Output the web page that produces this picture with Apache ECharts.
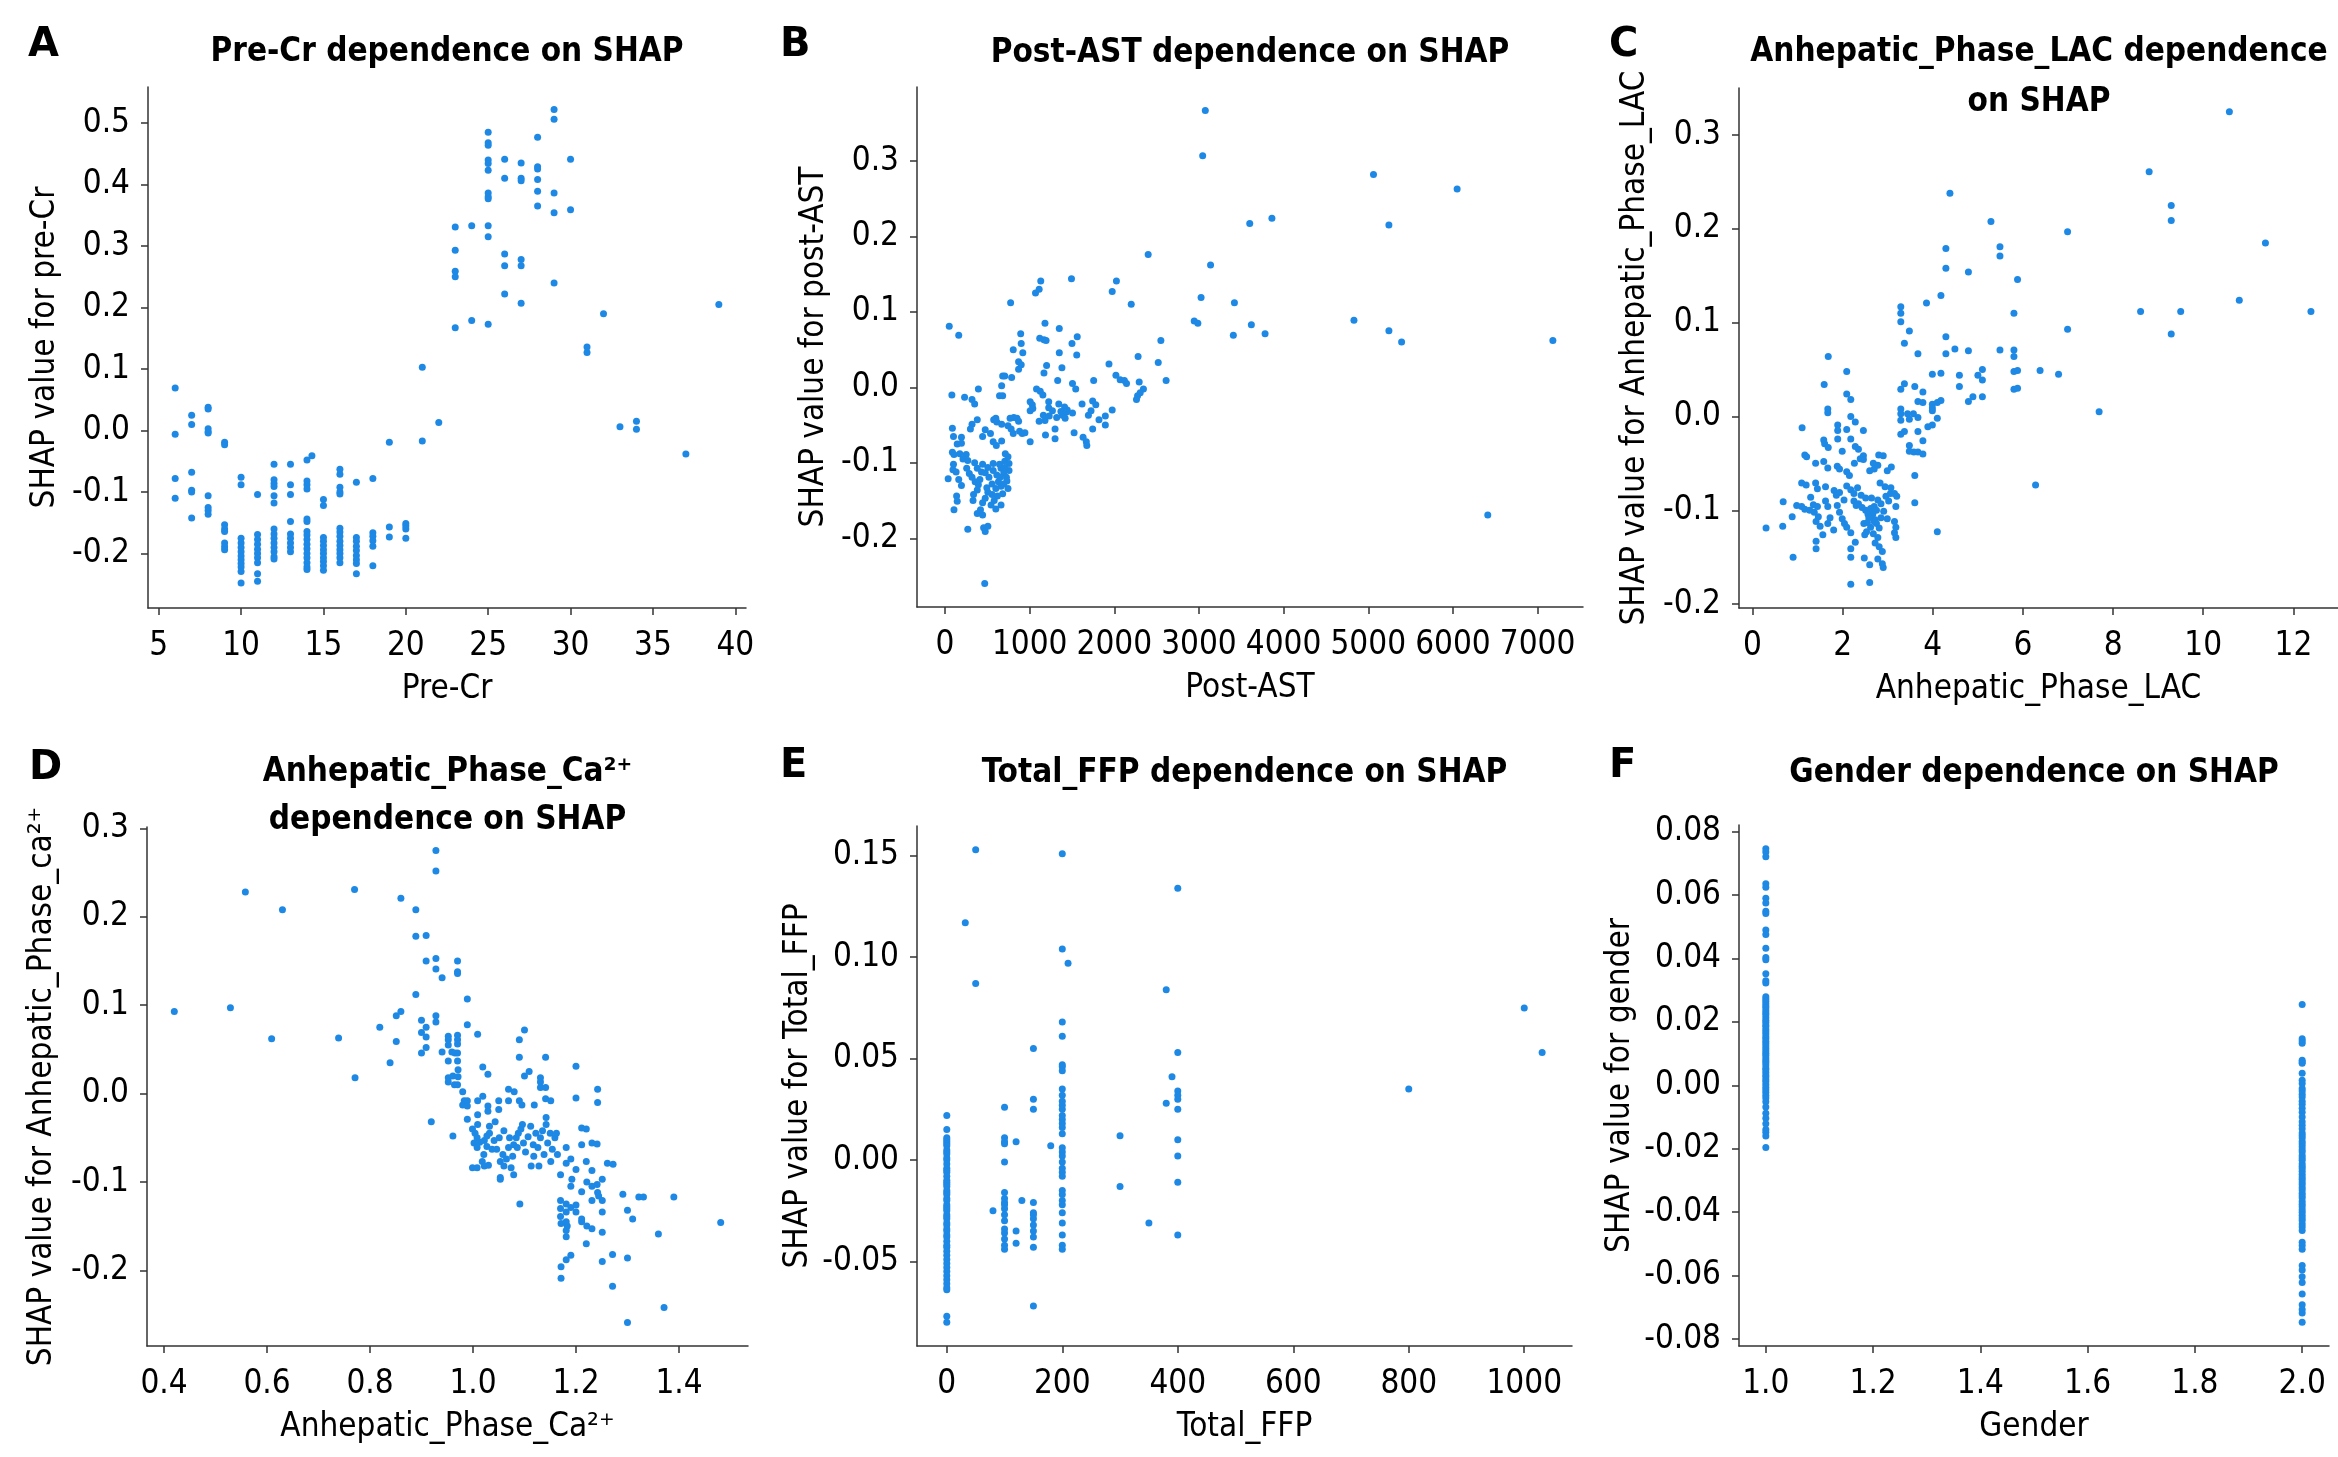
<!DOCTYPE html>
<html>
<head>
<meta charset="utf-8">
<script src="https://cdn.jsdelivr.net/npm/echarts@6.0.0/dist/echarts.min.js"></script>
<style>
html, body { margin: 0; padding: 0; background: #fff; }
#chart { width: 2338px; height: 1457px; }
</style>
</head>
<body>
<div id="chart"></div>
<script>
// ---- data: [feature value, SHAP value] ----
var preCr = [
  [6,0.069],[6,-0.006],[6,-0.078],[6,-0.110],
  [7,0.025],[7,0.010],[7,-0.068],[7,-0.097],[7,-0.100],[7,-0.142],
  [8,0.038],[8,0.035],[8,0.003],[8,-0.002],[8,-0.004],[8,-0.106],[8,-0.125],[8,-0.130],[8,-0.136],
  [9,-0.019],[9,-0.023],[9,-0.153],[9,-0.160],[9,-0.164],[9,-0.183],[9,-0.189],[9,-0.194],
  [10,-0.076],[10,-0.088],[10,-0.175],[10,-0.183],[10,-0.190],[10,-0.197],[10,-0.204],[10,-0.210],[10,-0.216],[10,-0.222],[10,-0.229],[10,-0.248],
  [11,-0.104],[11,-0.169],[11,-0.177],[11,-0.185],[11,-0.193],[11,-0.200],[11,-0.207],[11,-0.215],[11,-0.233],[11,-0.245],
  [12,-0.055],[12,-0.080],[12,-0.086],[12,-0.091],[12,-0.106],[12,-0.118],[12,-0.160],[12,-0.168],[12,-0.175],[12,-0.183],[12,-0.190],[12,-0.197],[12,-0.205],[12,-0.209],
  [13,-0.055],[13,-0.088],[13,-0.104],[13,-0.148],[13,-0.168],[13,-0.175],[13,-0.183],[13,-0.190],[13,-0.197],
  [14,-0.048],[14,-0.082],[14,-0.088],[14,-0.095],[14,-0.144],[14,-0.148],[14,-0.164],[14,-0.170],[14,-0.177],[14,-0.185],[14,-0.192],[14,-0.200],[14,-0.207],[14,-0.215],[14,-0.222],[14,-0.226],[14.3,-0.041],
  [15,-0.112],[15,-0.122],[15,-0.174],[15,-0.180],[15,-0.187],[15,-0.194],[15,-0.200],[15,-0.207],[15,-0.213],[15,-0.220],[15,-0.227],
  [16,-0.063],[16,-0.071],[16,-0.092],[16,-0.100],[16,-0.103],[16,-0.159],[16,-0.165],[16,-0.172],[16,-0.180],[16,-0.187],[16,-0.194],[16,-0.200],[16,-0.207],[16,-0.215],
  [17,-0.084],[17,-0.174],[17,-0.180],[17,-0.188],[17,-0.195],[17,-0.203],[17,-0.210],[17,-0.216],[17,-0.233],
  [18,-0.078],[18,-0.166],[18,-0.172],[18,-0.179],[18,-0.188],[18,-0.220],
  [19,-0.019],[19,-0.157],[19,-0.173],
  [20,-0.151],[20,-0.155],[20,-0.160],[20,-0.175],
  [21,0.103],[21,-0.017],[22,0.013],
  [23,0.331],[23,0.293],[23,0.259],[23,0.250],[23,0.167],
  [24,0.333],[24,0.179],
  [25,0.485],[25,0.468],[25,0.464],[25,0.440],[25,0.434],[25,0.423],[25,0.386],[25,0.380],[25,0.377],[25,0.333],[25,0.315],[25,0.173],
  [26,0.441],[26,0.410],[26,0.287],[26,0.268],[26,0.222],
  [27,0.435],[27,0.410],[27,0.406],[27,0.278],[27,0.268],[27,0.207],
  [28,0.477],[28,0.429],[28,0.425],[28,0.408],[28,0.389],[28,0.365],
  [29,0.522],[29,0.506],[29,0.386],[29,0.354],[29,0.240],
  [30,0.441],[30,0.359],
  [31,0.136],[31,0.127],[32,0.190],[33,0.006],[34,0.015],[34,0.002],[37,-0.038],[39,0.205]
];

var postAst = [
  [3075,0.367],[3044,0.307],[5062,0.282],[6050,0.263],[3600,0.217],[3862,0.224],[5244,0.215],[2400,0.176],
  [3137,0.162],[1494,0.144],[1131,0.141],[2025,0.141],[1975,0.127],[1069,0.125],[1112,0.130],[775,0.112],
  [2200,0.110],[3025,0.119],[3419,0.112],[50,0.081],[162,0.069],[2944,0.088],[2987,0.085],[4831,0.089],
  [3619,0.083],[3406,0.069],[3781,0.071],[5244,0.075],[5394,0.060],[7181,0.062],[6412,-0.169],[469,-0.260],
  [1181,0.085],[1350,0.078],[894,0.071],[1562,0.067],[1119,0.065],[1169,0.063],[1194,0.062],[900,0.058],
  [1500,0.058],[2550,0.062],[806,0.050],[919,0.046],[1350,0.046],[1556,0.043],[2281,0.041],[869,0.034],
  [900,0.030],[869,0.024],[1200,0.029],[1937,0.031],[2519,0.033],[1381,0.026],[1169,0.019],[2019,0.016],
  [681,0.015],[706,0.015],[787,0.013],[2069,0.010],[2119,0.009],[2294,0.007],[1756,0.009],[2612,0.009],
  [1331,0.009],[2144,0.005],[1506,0.005],[394,-0.002],[1081,-0.002],[1544,-0.002],[2344,-0.002],[2306,-0.007],
  [2275,-0.011],[2262,-0.016],[669,0.002],[81,-0.010],[231,-0.013],[319,-0.016],[350,-0.022],[644,-0.011],
  [681,-0.011],[1125,-0.005],[1156,-0.010],[1225,-0.019],[1344,-0.022],[1619,-0.022],[1781,-0.023],[1744,-0.018],
  [1006,-0.019],[1031,-0.023],[1412,-0.026],[1444,-0.030],[1225,-0.027],[1269,-0.031],[1369,-0.032],[1431,-0.033],
  [1975,-0.030],[1694,-0.037],[1725,-0.031],[1006,-0.031],[1037,-0.028],[1506,-0.034],[1162,-0.037],[1231,-0.038],
  [1319,-0.040],[1387,-0.037],[1419,-0.041],[1894,-0.038],[1181,-0.044],[1112,-0.045],[1819,-0.043],[1894,-0.050],
  [1744,-0.055],[1300,-0.055],[1300,-0.068],[1187,-0.063],[912,-0.061],[881,-0.058],[812,-0.040],[850,-0.041],
  [769,-0.041],[869,-0.045],[744,-0.051],[781,-0.055],[575,-0.043],[612,-0.046],[600,-0.041],[669,-0.049],
  [806,-0.061],[944,-0.060],[1006,-0.072],[1525,-0.060],[1631,-0.066],[1669,-0.072],[1675,-0.077],[669,-0.071],
  [381,-0.043],[319,-0.049],[300,-0.055],[87,-0.054],[100,-0.065],[194,-0.066],[144,-0.075],[194,-0.074],
  [444,-0.065],[475,-0.056],[537,-0.061],[569,-0.072],[606,-0.077],[87,-0.086],[106,-0.089],[100,-0.102],
  [175,-0.088],[250,-0.089],[212,-0.095],[269,-0.097],[37,-0.121],[94,-0.109],[131,-0.112],[162,-0.122],
  [194,-0.130],[137,-0.144],[144,-0.151],[106,-0.162],[256,-0.107],[287,-0.114],[319,-0.119],[269,-0.188],
  [350,-0.100],[381,-0.107],[431,-0.112],[356,-0.125],[394,-0.129],[337,-0.142],[331,-0.150],[381,-0.167],
  [444,-0.169],[456,-0.186],[506,-0.184],[475,-0.191],
  [475,-0.113],[519,-0.119],[569,-0.110],[612,-0.116],[662,-0.107],[694,-0.113],[725,-0.119],[631,-0.125],
  [556,-0.128],[494,-0.133],[600,-0.134],[662,-0.131],[706,-0.098],[744,-0.092],[712,-0.088],[756,-0.101],
  [756,-0.110],[731,-0.124],[681,-0.141],[619,-0.144],[556,-0.142],[506,-0.139],[581,-0.150],[544,-0.156],
  [475,-0.147],[444,-0.153],[419,-0.162],[600,-0.161],[662,-0.156],[650,-0.119],[569,-0.101],[506,-0.106],
  [444,-0.102],[412,-0.122],[381,-0.136],[694,-0.128],[744,-0.134],[644,-0.102],[706,-0.106]
];

var lac = [
  [10.58,0.325],[8.80,0.261],[4.38,0.238],[9.29,0.225],[9.29,0.209],[5.29,0.208],[6.99,0.197],[11.38,0.185],
  [4.29,0.179],[5.49,0.181],[5.49,0.171],[4.29,0.158],[4.79,0.154],[5.88,0.146],[4.18,0.129],[3.86,0.121],
  [3.29,0.117],[3.29,0.110],[3.29,0.101],[10.80,0.124],[8.61,0.112],[9.50,0.112],[12.39,0.112],[5.80,0.110],
  [6.99,0.093],[9.29,0.088],[3.48,0.091],[3.37,0.078],[4.29,0.085],[4.49,0.072],[4.29,0.067],[4.79,0.070],
  [3.67,0.067],[5.49,0.071],[5.80,0.071],[5.80,0.064],[1.68,0.064],[2.09,0.048],[3.99,0.045],[4.18,0.046],
  [5.10,0.050],[5.00,0.044],[4.59,0.044],[4.59,0.032],[5.10,0.039],[5.80,0.048],[5.88,0.049],[6.38,0.049],
  [6.79,0.045],[5.80,0.029],[5.88,0.030],[1.59,0.034],[3.37,0.035],[3.29,0.029],[3.60,0.032],[3.78,0.026],
  [4.89,0.021],[4.79,0.016],[5.10,0.021],[2.09,0.024],[2.18,0.018],[7.69,0.005],[3.67,0.016],[3.78,0.015],
  [3.99,0.013],[4.10,0.015],[4.18,0.017],[1.67,0.008],[1.67,0.004],[3.29,0.008],[3.29,0.003],[3.44,0.003],
  [3.57,0.003],[3.99,0.009],[3.99,0.006],[3.67,-0.001],[3.48,-0.003],[3.29,-0.004],[2.18,0.000],[4.10,-0.002],
  [3.89,-0.011],[3.99,-0.009],[1.89,-0.009],[1.89,-0.015],[1.10,-0.012],[2.28,-0.006],[2.46,-0.015],[2.09,-0.014],
  [2.18,-0.024],[3.29,-0.019],[3.37,-0.016],[3.67,-0.016],[3.78,-0.026],[3.48,-0.031],[3.67,-0.038],[3.78,-0.040],
  [3.58,-0.038],[3.48,-0.037],[1.58,-0.025],[1.60,-0.029],[1.68,-0.033],[1.89,-0.024],[3.60,-0.063],[6.28,-0.073],
  [3.60,-0.092],[4.10,-0.123],[2.28,-0.032],[2.35,-0.035],[2.46,-0.042],[2.46,-0.046],[2.39,-0.045],[1.99,-0.037],
  [1.16,-0.041],[1.20,-0.043],[1.40,-0.050],[1.58,-0.048],[1.67,-0.055],[1.88,-0.053],[1.93,-0.056],[2.09,-0.059],
  [2.15,-0.063],[2.26,-0.050],[2.68,-0.050],[2.78,-0.052],[2.80,-0.041],[2.90,-0.042],[2.99,-0.058],[3.08,-0.054],
  [2.60,-0.058],[2.70,-0.056],[1.09,-0.071],[1.19,-0.073],[1.40,-0.071],[1.44,-0.077],[1.62,-0.075],[1.81,-0.079],
  [1.86,-0.084],[1.93,-0.081],[2.03,-0.089],[2.09,-0.074],[2.18,-0.078],[2.25,-0.082],[2.33,-0.076],[2.41,-0.084],
  [0.68,-0.091],[0.30,-0.119],[0.67,-0.117],[0.90,-0.150],[0.88,-0.107],[0.98,-0.095],[1.09,-0.096],[1.16,-0.099],
  [1.29,-0.086],[1.35,-0.094],[1.44,-0.096],[1.27,-0.100],[1.37,-0.102],[1.46,-0.107],[1.41,-0.112],[1.41,-0.133],
  [1.41,-0.141],[1.50,-0.117],[1.56,-0.126],[1.62,-0.090],[1.67,-0.096],[1.72,-0.108],[1.67,-0.114],[1.80,-0.121],
  [1.88,-0.095],[1.93,-0.102],[1.99,-0.109],[2.04,-0.114],[2.09,-0.118],[2.18,-0.124],[2.18,-0.141],[2.18,-0.150],
  [2.18,-0.179],[2.28,-0.134],[2.35,-0.093],[2.43,-0.097],[2.51,-0.100],[2.56,-0.104],[2.62,-0.098],[2.25,-0.090],
  [2.30,-0.095],[2.47,-0.114],[2.53,-0.123],[2.49,-0.126],[2.60,-0.177],[2.48,-0.151],[2.60,-0.158],[2.67,-0.104],
  [2.72,-0.110],[2.75,-0.114],[2.81,-0.119],[2.70,-0.096],[2.78,-0.089],[2.85,-0.093],[2.91,-0.101],[2.64,-0.087],
  [2.72,-0.135],[2.81,-0.139],[2.88,-0.144],[2.78,-0.129],[2.88,-0.157],[2.90,-0.161],[2.78,-0.152],[2.96,-0.085],
  [3.02,-0.090],[3.06,-0.082],[2.99,-0.109],[3.15,-0.112],[3.18,-0.118],[3.18,-0.129],[3.15,-0.124],[3.15,-0.082],
  [3.18,-0.096],[3.20,-0.085],[3.07,-0.076],[2.94,-0.075],[2.83,-0.071],[2.51,-0.087],
  [2.65,-0.105],[2.70,-0.112],[2.58,-0.108],[2.75,-0.100],[2.62,-0.118],[2.55,-0.113],[2.68,-0.125],[2.85,-0.108]
];

var calcium = [
  [0.420,0.093],[0.529,0.097],[0.558,0.228],[0.609,0.062],[0.630,0.208],[0.739,0.063],[0.770,0.231],[0.771,0.018],
  [0.819,0.075],[0.839,0.035],[0.851,0.088],[0.851,0.059],[0.860,0.093],[0.860,0.221],[0.889,0.208],[0.889,0.178],
  [0.889,0.112],[0.909,0.179],[0.909,0.150],[0.900,0.083],[0.900,0.069],[0.900,0.046],[0.909,0.075],[0.909,0.064],
  [0.909,0.052],[0.919,-0.032],[0.928,0.275],[0.928,0.252],[0.928,0.153],[0.928,0.141],[0.928,0.088],[0.928,0.081],
  [0.940,0.131],[0.961,-0.048],[0.970,0.150],[0.970,0.138],[0.970,0.136],[0.989,0.107],[0.989,0.078],[1.009,0.067],
  [0.940,0.047],[0.952,0.065],[0.952,0.061],[0.952,0.055],[0.952,0.037],[0.959,0.047],[0.965,0.046],[0.970,0.066],
  [0.970,0.061],[0.970,0.056],[0.970,0.046],[0.970,0.037],[0.971,0.027],[0.971,0.019],[0.952,0.018],[0.952,0.013],
  [0.961,0.020],[0.964,0.010],[0.970,0.010],[0.980,0.002],[0.983,-0.008],[0.980,-0.013],[0.989,-0.008],[0.989,-0.014],
  [0.989,-0.029],[1.009,-0.008],[1.009,-0.024],[1.009,-0.035],[1.019,-0.003],[1.019,0.030],[1.029,0.022],[1.050,-0.008],
  [1.050,-0.018],[1.029,-0.014],[1.029,-0.020],[1.069,0.005],[1.069,-0.008],[1.080,0.002],[1.090,0.061],[1.090,0.041],
  [1.100,0.072],[1.100,0.020],[1.109,0.025],[1.090,-0.008],[1.095,-0.013],[1.119,-0.013],[1.131,0.018],[1.131,0.013],
  [1.131,0.007],[1.141,0.041],[1.141,0.007],[1.141,-0.006],[1.151,-0.008],[1.200,0.031],[1.200,-0.005],[1.242,0.005],
  [1.242,-0.010],[1.091,-0.125],
  [0.999,-0.040],[1.004,-0.045],[1.008,-0.050],[1.013,-0.055],[1.002,-0.056],[1.008,-0.061],[0.999,-0.084],[1.008,-0.084],
  [1.018,-0.077],[1.021,-0.069],[1.022,-0.053],[1.027,-0.048],[1.032,-0.045],[1.027,-0.060],[1.037,-0.063],[1.022,-0.082],
  [1.030,-0.081],[1.041,-0.053],[1.046,-0.063],[1.051,-0.050],[1.053,-0.077],[1.053,-0.095],[1.053,-0.097],[1.058,-0.069],
  [1.060,-0.082],[1.065,-0.074],[1.069,-0.061],[1.071,-0.050],[1.074,-0.084],[1.077,-0.071],[1.079,-0.058],[1.084,-0.050],
  [1.086,-0.061],[1.088,-0.045],[1.093,-0.040],[1.096,-0.035],[1.098,-0.056],[1.102,-0.066],[1.107,-0.049],[1.112,-0.037],
  [1.117,-0.058],[1.118,-0.071],[1.122,-0.045],[1.126,-0.061],[1.128,-0.082],[1.131,-0.050],[1.135,-0.042],[1.138,-0.069],
  [1.142,-0.027],[1.142,-0.035],[1.145,-0.056],[1.150,-0.045],[1.151,-0.077],[1.154,-0.063],[1.159,-0.050],[1.162,-0.045],
  [1.164,-0.069],[1.113,-0.082],[1.079,-0.092],[1.043,-0.032],[1.032,-0.037],[1.060,-0.042],
  [1.170,-0.092],[1.181,-0.061],[1.181,-0.079],[1.190,-0.074],[1.192,-0.097],[1.190,-0.105],[1.200,-0.086],[1.211,-0.039],
  [1.220,-0.040],[1.211,-0.058],[1.220,-0.077],[1.231,-0.087],[1.231,-0.105],[1.241,-0.103],[1.211,-0.111],[1.221,-0.100],
  [1.231,-0.056],[1.241,-0.057],[1.251,-0.097],[1.242,-0.112],[1.244,-0.116],[1.231,-0.121],[1.251,-0.121],[1.261,-0.079],
  [1.272,-0.080],[1.170,-0.121],[1.181,-0.125],[1.170,-0.130],[1.190,-0.129],[1.181,-0.134],[1.170,-0.139],[1.181,-0.145],
  [1.183,-0.150],[1.171,-0.147],[1.181,-0.155],[1.181,-0.162],[1.200,-0.126],[1.200,-0.134],[1.211,-0.145],[1.221,-0.150],
  [1.251,-0.134],[1.251,-0.157],[1.211,-0.142],[1.190,-0.183],[1.181,-0.188],[1.171,-0.196],[1.171,-0.209],[1.220,-0.170],
  [1.231,-0.153],[1.251,-0.190],[1.271,-0.182],[1.271,-0.218],[1.291,-0.114],[1.300,-0.132],[1.310,-0.142],[1.300,-0.186],
  [1.300,-0.259],[1.322,-0.117],[1.331,-0.117],[1.360,-0.159],[1.371,-0.242],[1.390,-0.117],[1.481,-0.146]
];

var totalFfp = [
  [0,0.022],[0,0.015],[0,0.011],[0,0.010],[0,0.009],[0,0.008],[0,0.007],[0,0.005],[0,0.004],[0,0.003],
  [0,0.001],[0,0.000],[0,-0.002],[0,-0.004],[0,-0.005],[0,-0.006],[0,-0.008],[0,-0.010],[0,-0.011],[0,-0.012],
  [0,-0.013],[0,-0.015],[0,-0.016],[0,-0.017],[0,-0.019],[0,-0.020],[0,-0.022],[0,-0.023],[0,-0.024],[0,-0.025],
  [0,-0.027],[0,-0.028],[0,-0.029],[0,-0.031],[0,-0.032],[0,-0.034],[0,-0.035],[0,-0.037],[0,-0.038],[0,-0.040],
  [0,-0.042],[0,-0.043],[0,-0.045],[0,-0.047],[0,-0.049],[0,-0.051],[0,-0.053],[0,-0.055],[0,-0.057],[0,-0.059],
  [0,-0.061],[0,-0.063],[0,-0.064],[0,-0.077],[0,-0.080],
  [32,0.117],[50,0.153],[50,0.087],[80,-0.025],
  [100,0.026],[100,0.011],[100,0.009],[100,0.008],[100,-0.001],[100,-0.016],[100,-0.019],[100,-0.021],[100,-0.022],
  [100,-0.024],[100,-0.027],[100,-0.030],[100,-0.034],[100,-0.036],[100,-0.039],[100,-0.042],[100,-0.044],
  [120,0.009],[120,-0.035],[120,-0.041],[130,-0.020],
  [150,0.055],[150,0.030],[150,0.025],[150,-0.021],[150,-0.026],[150,-0.027],[150,-0.029],[150,-0.032],[150,-0.035],
  [150,-0.038],[150,-0.043],[150,-0.072],[180,0.007],
  [200,0.151],[200,0.104],[200,0.068],[200,0.061],[200,0.047],[200,0.046],[200,0.044],[200,0.035],[200,0.032],
  [200,0.029],[200,0.027],[200,0.025],[200,0.022],[200,0.020],[200,0.018],[200,0.016],[200,0.013],[200,0.006],
  [200,0.004],[200,0.002],[200,-0.001],[200,-0.004],[200,-0.006],[200,-0.008],[200,-0.015],[200,-0.017],[200,-0.020],
  [200,-0.022],[200,-0.026],[200,-0.031],[200,-0.037],[200,-0.042],[200,-0.044],[210,0.097],
  [300,0.012],[300,-0.013],[350,-0.031],[380,0.084],[380,0.028],[390,0.041],
  [400,0.134],[400,0.053],[400,0.034],[400,0.032],[400,0.030],[400,0.025],[400,0.010],[400,0.002],[400,-0.011],[400,-0.037],
  [800,0.035],[1000,0.075],[1031,0.053]
];

var genderMale = [
  0.0746,0.0736,0.0721,0.0636,0.0625,0.0590,0.0575,0.0549,0.0542,0.0490,0.0476,0.0432,0.0403,0.0396,0.0352,0.0330,
  0.0323,0.0279,0.0272,0.0265,0.0257,0.0250,0.0244,0.0235,0.0228,0.0222,0.0213,0.0205,0.0199,0.0190,0.0185,0.0176,
  0.0169,0.0162,0.0153,0.0147,0.0139,0.0132,0.0124,0.0116,0.0108,0.0101,0.0095,0.0086,0.0078,0.0072,0.0064,0.0055,
  0.0049,0.0041,0.0033,0.0026,0.0018,0.0011,0.0003,-0.0006,-0.0014,-0.0022,-0.0031,-0.0040,-0.0052,-0.0068,-0.0088,
  -0.0104,-0.0121,-0.0139,-0.0148,-0.0160,-0.0196
];
var genderFemale = [
  0.0255,0.0147,0.0140,0.0133,0.0079,0.0074,0.0070,0.0038,0.0016,0.0006,-0.0010,-0.0018,-0.0028,-0.0037,-0.0050,
  -0.0060,-0.0072,-0.0085,-0.0100,-0.0115,-0.0126,-0.0137,-0.0150,-0.0158,-0.0166,-0.0177,-0.0185,-0.0194,-0.0203,
  -0.0210,-0.0221,-0.0229,-0.0236,-0.0247,-0.0255,-0.0262,-0.0271,-0.0280,-0.0289,-0.0296,-0.0305,-0.0313,-0.0322,
  -0.0330,-0.0340,-0.0348,-0.0355,-0.0366,-0.0375,-0.0383,-0.0392,-0.0400,-0.0410,-0.0418,-0.0426,-0.0437,-0.0447,
  -0.0458,-0.0495,-0.0505,-0.0517,-0.0568,-0.0582,-0.0604,-0.0622,-0.0658,-0.0692,-0.0707,-0.0718,-0.0747
];
var gender = genderMale.map(function (v) { return [1, v]; })
  .concat(genderFemale.map(function (v) { return [2, v]; }));

// ---- tick values ----
var preCrTicks = [5, 10, 15, 20, 25, 30, 35, 40];
var preCrShapTicks = [-0.2, -0.1, 0, 0.1, 0.2, 0.3, 0.4, 0.5];
var postAstTicks = [0, 1000, 2000, 3000, 4000, 5000, 6000, 7000];
var postAstShapTicks = [-0.2, -0.1, 0, 0.1, 0.2, 0.3];
var lacTicks = [0, 2, 4, 6, 8, 10, 12];
var lacShapTicks = [-0.2, -0.1, 0, 0.1, 0.2, 0.3];
var caTicks = [0.4, 0.6, 0.8, 1.0, 1.2, 1.4];
var caShapTicks = [-0.2, -0.1, 0, 0.1, 0.2, 0.3];
var ffpTicks = [0, 200, 400, 600, 800, 1000];
var ffpShapTicks = [-0.05, 0, 0.05, 0.10, 0.15];
var genderTicks = [1.0, 1.2, 1.4, 1.6, 1.8, 2.0];
var genderShapTicks = [-0.08, -0.06, -0.04, -0.02, 0, 0.02, 0.04, 0.06, 0.08];

var FONT = "'DejaVu Sans Condensed', 'DejaVu Sans', sans-serif";
var BLUE = '#1e88e5';
var AXIS = '#333333';

var panels = [
  { letter: 'A', lx: 28, ly: 26, title: 'Pre-Cr dependence on SHAP', ty: 36,
    xName: 'Pre-Cr', yName: 'SHAP value for pre-Cr', data: preCr,
    grid: [148, 87, 598, 521], xr: [4.35, 40.65], yr: [-0.2885, 0.5585],
    xt: preCrTicks, yt: preCrShapTicks, xd: 0, yd: 1, yGap: 86 },
  { letter: 'B', lx: 780, ly: 26, title: 'Post-AST dependence on SHAP', ty: 37,
    xName: 'Post-AST', yName: 'SHAP value for post-AST', data: postAst,
    grid: [917, 87, 666, 520], xr: [-331, 7537], yr: [-0.291, 0.398],
    xt: postAstTicks, yt: postAstShapTicks, xd: 0, yd: 1, yGap: 86 },
  { letter: 'C', lx: 1609, ly: 26, title: 'Anhepatic_Phase_LAC dependence\non SHAP', ty: 27, tlh: 50,
    xName: 'Anhepatic_Phase_LAC', yName: 'SHAP value for Anhepatic_Phase_LAC', data: lac,
    grid: [1739, 88, 600, 520], xr: [-0.30, 12.99], yr: [-0.2042, 0.3502],
    xt: lacTicks, yt: lacShapTicks, xd: 0, yd: 1, yGap: 87 },
  { letter: 'D', lx: 29, ly: 749, title: 'Anhepatic_Phase_Ca\u00b2\u207a\ndependence on SHAP', ty: 748, tlh: 48,
    xName: 'Anhepatic_Phase_Ca\u00b2\u207a', yName: 'SHAP value for Anhepatic_Phase_ca\u00b2\u207a', data: calcium,
    grid: [147, 827, 601, 519], xr: [0.367, 1.534], yr: [-0.2857, 0.3017],
    xt: caTicks, yt: caShapTicks, xd: 1, yd: 1, yGap: 88 },
  { letter: 'E', lx: 780, ly: 747, title: 'Total_FFP dependence on SHAP', ty: 757,
    xName: 'Total_FFP', yName: 'SHAP value for Total_FFP', data: totalFfp,
    grid: [917, 826, 655, 520], xr: [-51.6, 1082.7], yr: [-0.0917, 0.1647],
    xt: ffpTicks, yt: ffpShapTicks, xd: 0, yd: 2, yGap: 102 },
  { letter: 'F', lx: 1609, ly: 747, title: 'Gender dependence on SHAP', ty: 757,
    xName: 'Gender', yName: 'SHAP value for gender', data: gender,
    grid: [1739, 825, 590, 521], xr: [0.95, 2.05], yr: [-0.0822, 0.0821],
    xt: genderTicks, yt: genderShapTicks, xd: 1, yd: 2, yGap: 102 }
];

function fmt(d) {
  return function (v) { return Number(v).toFixed(d); };
}

var option = {
  animation: false,
  backgroundColor: '#ffffff',
  title: [], grid: [], xAxis: [], yAxis: [], series: []
};

panels.forEach(function (p, i) {
  var g = p.grid;
  option.grid.push({ left: g[0], top: g[1], width: g[2], height: g[3] });

  var line = { onZero: false, lineStyle: { color: AXIS, width: 1.5 } };
  var tick = { length: 7, lineStyle: { color: AXIS, width: 1.5 } };
  var label = { color: '#000', fontSize: 33, fontFamily: FONT };
  var nameStyle = { color: '#000', fontSize: 33, fontFamily: FONT };

  option.xAxis.push({
    gridIndex: i, type: 'value', min: p.xr[0], max: p.xr[1],
    name: p.xName, nameLocation: 'middle', nameGap: 65, nameTextStyle: nameStyle,
    axisLine: line,
    axisTick: Object.assign({ customValues: p.xt }, tick),
    axisLabel: Object.assign({ customValues: p.xt, margin: 22, formatter: fmt(p.xd) }, label),
    splitLine: { show: false }
  });
  option.yAxis.push({
    gridIndex: i, type: 'value', min: p.yr[0], max: p.yr[1],
    name: p.yName, nameLocation: 'middle', nameGap: p.yGap, nameRotate: 90, nameTextStyle: nameStyle,
    axisLine: line,
    axisTick: Object.assign({ customValues: p.yt }, tick),
    axisLabel: Object.assign({ customValues: p.yt, margin: 18, formatter: fmt(p.yd) }, label),
    splitLine: { show: false }
  });
  option.series.push({
    type: 'scatter', xAxisIndex: i, yAxisIndex: i, data: p.data,
    symbolSize: 7, silent: true,
    itemStyle: { color: BLUE, opacity: 1 }
  });

  option.title.push({
    text: p.letter, left: p.lx, top: p.ly, padding: 0,
    textStyle: { fontSize: 40, fontWeight: 'bold', fontFamily: "'DejaVu Sans', sans-serif", color: '#000', lineHeight: 40 }
  });
  option.title.push({
    text: p.title, left: g[0] + g[2] / 2, top: p.ty, padding: 0, textAlign: 'center',
    textStyle: { fontSize: 33, fontWeight: 'bold', fontFamily: FONT, color: '#000', lineHeight: p.tlh || 33 }
  });
});

var chart = echarts.init(document.getElementById('chart'));
chart.setOption(option);
</script>
</body>
</html>
